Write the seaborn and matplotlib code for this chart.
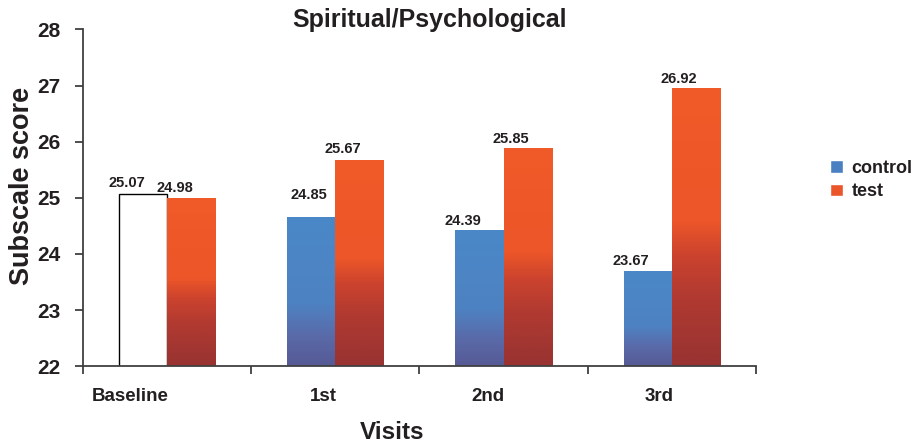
import numpy as np
import pandas as pd
import matplotlib
matplotlib.use('Agg')
import matplotlib.pyplot as plt
import seaborn as sns
from matplotlib.colors import LinearSegmentedColormap
from matplotlib.patches import Patch
from matplotlib.transforms import ScaledTranslation

# data
visits = ['Baseline', '1st', '2nd', '3rd']
groups = ['control', 'test']
control_bar = [25.07, 24.64, 24.41, 23.68]   # bar tops as drawn
test_bar = [24.99, 25.67, 25.87, 26.94]
control_labels = ['25.07', '24.85', '24.39', '23.67']   # printed values
test_labels = ['24.98', '25.67', '25.85', '26.92']
y_ticks = [22, 23, 24, 25, 26, 27, 28]

sns.set_theme(style='ticks')
plt.rcParams['font.family'] = ['Liberation Sans', 'DejaVu Sans']
plt.rcParams['font.weight'] = 'bold'
ink = '#231f20'
spine_col = '#404040'

df = pd.DataFrame({
    'Visit': visits * 2,
    'Group': [groups[0]] * len(visits) + [groups[1]] * len(visits),
    'Score': control_bar + test_bar,
})

fig = plt.figure(figsize=(9.15, 4.46), dpi=100)
ax = fig.add_axes([0.0907, 0.179, 0.7355, 0.755])
sns.barplot(data=df, x='Visit', y='Score', hue='Group', order=visits,
            hue_order=groups, width=0.572, errorbar=None, legend=False, ax=ax)

# gradient fills, bottom -> top
cmap_control = LinearSegmentedColormap.from_list(
    'control', [(0, '#565a95'), (0.2, '#5a6aa9'), (0.42, '#4e82c2'), (1, '#4a88c8')])
cmap_test = LinearSegmentedColormap.from_list(
    'test', [(0, '#983331'), (0.25, '#b13a31'), (0.4, '#cc432e'), (0.52, '#ec5629'), (1, '#f15a28')])
grad = np.linspace(0, 1, 256).reshape(-1, 1)

for k, (cont, cmap) in enumerate(zip(ax.containers, [cmap_control, cmap_test])):
    for i, bar in enumerate(cont):
        if k == 0 and i == 0:
            # baseline control bar is drawn hollow
            bar.set_facecolor('white')
            bar.set_edgecolor('black')
            bar.set_linewidth(1.0)
            continue
        x0, w, top = bar.get_x(), bar.get_width(), bar.get_height()
        bar.set_facecolor('none')
        bar.set_edgecolor('none')
        ax.imshow(grad, cmap=cmap, origin='lower', aspect='auto',
                  extent=[x0, x0 + w, 22, top], zorder=bar.get_zorder())

# value labels (sit slightly left of bar centre, at the printed value)
label_dx = {0: [-12, -2, -12, -12], 1: [-12, -12, -12, -12]}
for k, (cont, texts) in enumerate(zip(ax.containers, [control_labels, test_labels])):
    for bar, txt, dx in zip(cont, texts, label_dx[k]):
        ax.annotate(txt, (bar.get_x() + bar.get_width() / 2, float(txt)),
                    xytext=(dx, 3), textcoords='offset points',
                    ha='center', va='bottom', fontsize=10.5,
                    fontweight='bold', color=ink)

ax.set_xlim(-0.5, len(visits) - 0.5)
ax.set_ylim(22, 28)
ax.set_yticks(y_ticks)
ax.set_xticks(range(len(visits)))
ax.set_xticks(np.arange(len(visits) + 1) - 0.5, minor=True)
ax.set_xticklabels(visits)

sns.despine(ax=ax)
for side in ['left', 'bottom']:
    ax.spines[side].set_color(spine_col)
    ax.spines[side].set_linewidth(1.3)

ax.tick_params(axis='x', which='major', length=0, pad=16, labelsize=13.5, labelcolor=ink)
ax.tick_params(axis='x', which='minor', length=6, width=1.3, color=spine_col, direction='out')
ax.tick_params(axis='y', length=6, width=1.3, color=spine_col, pad=10, labelsize=15, labelcolor=ink)

tick_dx = [-26.6, -8.6, -11.5, -9.4]
for lbl, dx in zip(ax.get_xticklabels(), tick_dx):
    lbl.set_transform(lbl.get_transform() + ScaledTranslation(dx / 72, 0, fig.dpi_scale_trans))

ax.set_xlabel('Visits', fontsize=17.5, fontweight='bold', labelpad=11, x=0.459, color=ink)
ax.set_ylabel('Subscale score', fontsize=19.5, fontweight='bold', labelpad=2, y=0.536, color=ink)
ax.set_title('Spiritual/Psychological', fontsize=18, fontweight='bold',
             y=1.0, pad=2, x=0.515, color=ink)

handles = [Patch(facecolor='#4a80c2'), Patch(facecolor='#ea552a')]
fig.legend(handles, groups, loc='center left', bbox_to_anchor=(0.907, 0.596),
           frameon=False, borderpad=0, borderaxespad=0, handlelength=0.7,
           handleheight=0.7, handletextpad=0.5, labelspacing=0.35,
           prop={'weight': 'bold', 'size': 13}, labelcolor=ink)

fig.savefig('out.png', dpi=100)
